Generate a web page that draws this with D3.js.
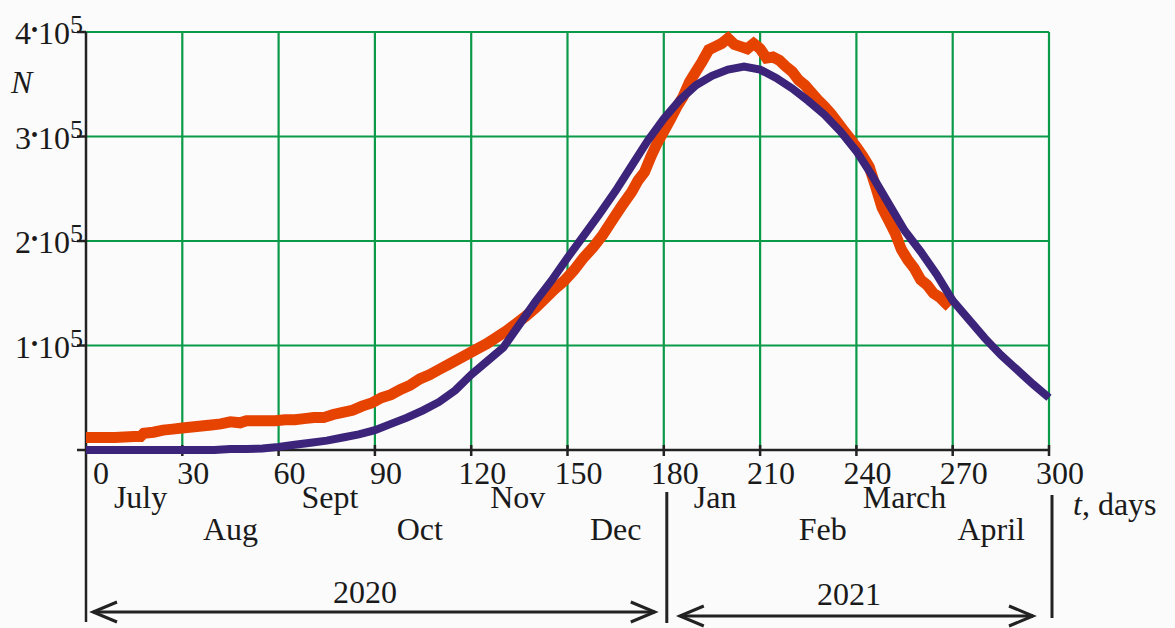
<!DOCTYPE html>
<html>
<head>
<meta charset="utf-8">
<script src="https://cdn.jsdelivr.net/npm/d3@7"></script>
<style>
  body { margin: 0; background: #fbfbfb; }
  text { font-family: "Liberation Serif", "Times New Roman", serif; fill: #1a1a1a; }
</style>
</head>
<body>
<svg id="chart" width="1175" height="628"></svg>
<script>
// observed data (orange), thousands of cases
const orangeDays = [0,3,6,9,12,15,17,18,21,24,27,30,33,36,39,42,45,48,50,53,56,59,62,65,68,71,74,77,80,83,86,89,92,95,98,101,104,107,110,113,116,119,122,125,128,131,134,137,140,143,146,149,152,155,158,161,164,167,170,172,174,176,178,180,182,184,186,188,190,192,194,196,198,200,202,204,206,208,210,212,214,216,218,220,222,224,226,228,230,232,234,236,238,240,242,244,246,248,250,252,254,256,258,260,262,264,266,268,269];
const orangeVals = [12,12,12,12,12.5,13,13,16,17,19,20,21,22,23,24,25,27,26,28,28,28,28,29,29,30,31,31,34,36,38,42,45,50,53,58,62,68,72,77,82,87,92,97,102,108,114,121,128,136,145,154,162,172,184,194,206,220,234,247,258,266,281,294,305,316,328,338,352,362,372,383,386,389,394,388,386,384,389,384,375,376,373,367,362,354,349,342,335,329,322,314,306,298,290,281,271,252,232,220,208,192,182,174,163,158,150,146,140,137];

// model curve (purple), thousands of cases
const blueDays = [0,5,10,15,20,25,30,35,40,45,50,55,60,65,70,75,80,85,90,95,100,105,110,115,120,125,130,135,140,145,150,155,160,165,170,175,180,185,190,195,200,205,210,215,220,225,230,235,240,245,250,255,260,265,270,275,280,285,290,295,300];
const blueVals = [0,0,0,0,0,0,0,0,0,1,1,1.5,3,5,7,9,12,15,19,25,31,38,46,57,72,85,98,120,142,162,184,205,226,248,272,296,317,335,349,358,364,367,364,356,346,334,321,305,286,262,236,210,190,168,143,125,107,91,77,63,50];

// axis ticks and labels
const xTicks = [0,30,60,90,120,150,180,210,240,270,300];
const yTicks = [1,2,3,4];
const monthNames = ["July","Aug","Sept","Oct","Nov","Dec","Jan","Feb","March","April"];
const monthDays  = [17,45,76,104,134.5,165,196,229.5,255,282];
const monthRow   = [0,1,0,1,0,1,0,1,0,1];

const svg = d3.select("#chart");
const x = d3.scaleLinear().domain([0, 300]).range([86, 1049]);
const y = d3.scaleLinear().domain([0, 400]).range([450, 32]);

const green = "#0b9a48", ink = "#222";

// grid
svg.append("g").selectAll("line").data(xTicks.slice(1)).join("line")
    .attr("x1", d => x(d)).attr("x2", d => x(d))
    .attr("y1", y(400)).attr("y2", y(0))
    .attr("stroke", green).attr("stroke-width", 2.2);
svg.append("g").selectAll("line").data(yTicks.map(d => d * 100)).join("line")
    .attr("x1", x(0)).attr("x2", x(300))
    .attr("y1", d => y(d)).attr("y2", d => y(d))
    .attr("stroke", green).attr("stroke-width", 2.2);

// axes
svg.append("line").attr("x1", 77).attr("x2", x(300)).attr("y1", y(0)).attr("y2", y(0))
    .attr("stroke", ink).attr("stroke-width", 2.5);
svg.append("line").attr("x1", x(0)).attr("x2", x(0)).attr("y1", y(400)).attr("y2", 622)
    .attr("stroke", ink).attr("stroke-width", 2.5);
// x ticks
svg.append("g").selectAll("line").data(xTicks.slice(1)).join("line")
    .attr("x1", d => x(d)).attr("x2", d => x(d))
    .attr("y1", y(0) - 5).attr("y2", y(0) + 6)
    .attr("stroke", ink).attr("stroke-width", 2.5);
// y ticks
svg.append("g").selectAll("line").data(yTicks.map(d => d * 100)).join("line")
    .attr("x1", 77).attr("x2", x(0))
    .attr("y1", d => y(d)).attr("y2", d => y(d))
    .attr("stroke", ink).attr("stroke-width", 2.5);

// x tick labels
svg.append("g").selectAll("text").data(xTicks).join("text")
    .attr("x", d => x(d) + (d === 0 ? 15 : 11))
    .attr("y", 484)
    .attr("text-anchor", "middle")
    .style("font-size", "32px")
    .text(d => d);

// y tick labels  "n·10^5"
const yl = svg.append("g").selectAll("text").data(yTicks).join("text")
    .attr("x", 83)
    .attr("y", d => y(d * 100) + 12)
    .attr("text-anchor", "end")
    .style("font-size", "32px");
yl.append("tspan").text(d => d);
yl.append("tspan").style("font-size", "20px").attr("dy", -7).text("\u2022");
yl.append("tspan").attr("dy", 7).text("10");
yl.append("tspan").style("font-size", "26px").attr("dy", -11).text("5");

// axis names
svg.append("text").attr("x", 11).attr("y", 93)
    .style("font-size", "32px").style("font-style", "italic").text("N");
const tl = svg.append("text").attr("x", 1073).attr("y", 515).style("font-size", "32px");
tl.append("tspan").style("font-style", "italic").text("t");
tl.append("tspan").text(", days");

// month labels
svg.append("g").selectAll("text").data(monthNames).join("text")
    .attr("x", (d, i) => x(monthDays[i]))
    .attr("y", (d, i) => monthRow[i] ? 540 : 508)
    .attr("text-anchor", "middle")
    .style("font-size", "32px")
    .text(d => d);

// year separators and arrows
svg.append("line").attr("x1", x(180) + 3).attr("x2", x(180) + 3).attr("y1", 492).attr("y2", 623)
    .attr("stroke", ink).attr("stroke-width", 3);
svg.append("line").attr("x1", x(300) + 3).attr("x2", x(300) + 3).attr("y1", 495).attr("y2", 618)
    .attr("stroke", ink).attr("stroke-width", 3);

function arrow(x0, x1, yy) {
    const g = svg.append("g").attr("fill", "none").attr("stroke", ink).attr("stroke-width", 3);
    g.append("line").attr("x1", x0).attr("x2", x1).attr("y1", yy).attr("y2", yy);
    g.append("path").attr("d", `M${x0 + 24},${yy - 10}L${x0},${yy}L${x0 + 24},${yy + 10}`);
    g.append("path").attr("d", `M${x1 - 24},${yy - 10}L${x1},${yy}L${x1 - 24},${yy + 10}`);
}
arrow(x(0) + 7, x(180) - 9, 612);
arrow(x(180) + 16, x(300) - 16, 616);

svg.append("text").attr("x", 365).attr("y", 603).attr("text-anchor", "middle")
    .style("font-size", "32px").text("2020");
svg.append("text").attr("x", 849).attr("y", 605).attr("text-anchor", "middle")
    .style("font-size", "32px").text("2021");

// curves
const line = d3.line().x(d => x(d[0])).y(d => y(d[1]));
svg.append("path")
    .attr("d", line(d3.zip(orangeDays, orangeVals)))
    .attr("fill", "none").attr("stroke", "#e64200").attr("stroke-width", 11)
    .attr("stroke-linejoin", "miter");
svg.append("path")
    .attr("d", line(d3.zip(blueDays, blueVals)))
    .attr("fill", "none").attr("stroke", "#3b2479").attr("stroke-width", 8)
    .attr("stroke-linejoin", "miter");
</script>
</body>
</html>
